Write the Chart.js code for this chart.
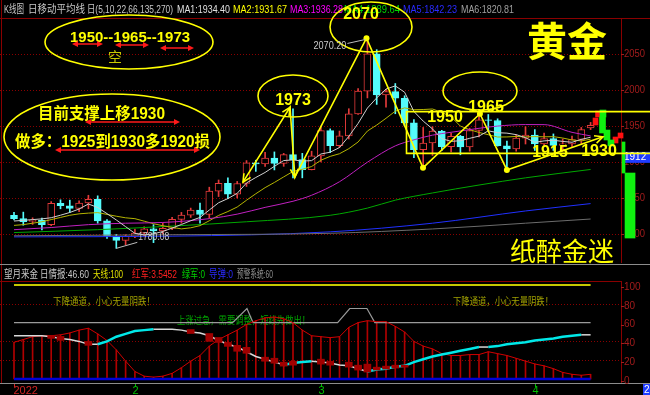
<!DOCTYPE html>
<html>
<head>
<meta charset="utf-8">
<title>黄金 日K</title>
<script src="https://cdn.jsdelivr.net/npm/chart.js@4.4.1/dist/chart.umd.min.js"></script>
<style>
  html, body { margin: 0; padding: 0; background: #000; overflow: hidden; }
  #goldChart { display: block; }
</style>
</head>
<body>
<canvas id="goldChart" width="650" height="395"></canvas>
<script>
// ---- values ----
const monthIdx = [0, 13, 33, 56];
const monthLabels = ['2022', '2', '3', '4'];

const opens = [1825.9,1821.4,1817.5,1818.9,1813.0,1842.5,1839.3,1835.6,1843.0,1848.0,1818.2,1796.9,1791.2,1796.8,1801.2,1807.3,1804.4,1807.8,1820.4,1826.3,1833.3,1827.1,1859.6,1870.5,1855.3,1870.1,1898.9,1897.5,1905.5,1898.0,1910.2,1903.4,1889.5,1908.6,1943.6,1922.8,1936.2,1966.8,1998.4,2050.3,1993.2,1997.8,1988.6,1954.4,1917.0,1926.4,1943.0,1921.3,1935.8,1920.9,1943.7,1958.4,1957.7,1922.6,1918.2,1933.1,1937.4,1925.1,1932.5,1923.0,1925.2,1931.3,1947.5];
const highs = [1830.0,1830.4,1822.5,1822.0,1845.0,1847.5,1847.0,1846.0,1853.8,1853.0,1820.0,1799.5,1799.0,1807.0,1810.0,1813.0,1815.0,1823.0,1830.0,1836.0,1843.0,1865.0,1875.0,1878.0,1873.0,1902.0,1902.5,1913.5,1914.0,1912.0,1974.0,1912.0,1915.0,1950.0,1946.0,1943.0,1974.0,2002.0,2070.2,2056.0,2001.0,2009.0,1992.0,1959.0,1948.0,1949.0,1944.0,1940.0,1937.0,1947.0,1966.0,1966.0,1960.0,1929.0,1938.0,1949.0,1945.0,1940.0,1939.0,1932.0,1936.0,1948.0,1955.0];
const lows = [1819.7,1812.2,1813.3,1805.5,1811.5,1835.0,1830.0,1831.0,1835.0,1815.0,1794.0,1780.08,1785.0,1795.0,1796.0,1788.0,1800.0,1806.0,1815.0,1823.0,1815.0,1822.0,1852.0,1849.0,1850.0,1866.0,1887.0,1894.0,1889.0,1894.0,1878.0,1878.0,1889.0,1900.0,1913.0,1920.0,1932.0,1966.0,1989.0,1980.0,1976.0,1967.0,1950.0,1906.0,1895.0,1909.0,1916.0,1914.0,1910.0,1915.0,1935.0,1944.0,1922.0,1890.0,1915.0,1925.0,1916.0,1922.0,1916.0,1915.0,1920.0,1924.0,1945.0];
const closes = [1821.4,1817.0,1818.9,1813.0,1842.5,1839.3,1835.6,1843.0,1848.0,1818.2,1796.9,1791.2,1796.8,1801.2,1807.3,1804.4,1807.8,1820.4,1826.3,1833.3,1827.1,1859.6,1870.5,1855.3,1870.1,1898.9,1897.5,1905.5,1898.0,1910.2,1903.4,1889.5,1908.6,1943.6,1922.8,1936.2,1966.8,1998.4,2050.3,1993.2,1997.8,1988.6,1954.4,1917.0,1926.4,1943.0,1921.3,1935.8,1920.9,1943.7,1958.4,1957.7,1922.6,1918.2,1933.1,1937.4,1925.1,1932.5,1923.0,1925.2,1931.3,1945.0,1951.0];
const peakIdx = 38, troughIdx = 11;

// moving averages (MA1, MA2 every day; the slow ones sampled)
const ma1 = [1818,1819,1820,1821,1822.6,1826.1,1829.9,1834.7,1841.7,1836.8,1828.3,1819.5,1810.2,1800.9,1798.7,1800.2,1803.5,1808.2,1813.2,1818.4,1823.0,1833.3,1843.4,1849.2,1856.5,1870.9,1878.5,1885.5,1894.0,1902.0,1902.9,1901.3,1901.9,1911.1,1913.6,1920.1,1935.6,1953.6,1974.9,1989.0,2001.3,2005.7,1996.9,1970.2,1956.8,1945.9,1932.4,1928.7,1929.5,1932.9,1936.0,1943.3,1940.7,1940.1,1938.0,1933.8,1927.3,1929.3,1930.2,1928.6,1927.4,1931.4,1934.40];
const ma2 = [1812,1813,1815,1817,1820,1823,1826,1828,1829,1829.7,1827.2,1824.7,1822.5,1821.3,1817.8,1814.3,1811.5,1809.2,1807.1,1808.6,1811.6,1818.4,1825.8,1831.2,1837.5,1846.9,1855.9,1864.4,1871.6,1879.3,1886.9,1889.9,1893.7,1902.5,1907.8,1911.5,1918.5,1927.8,1943.0,1951.3,1960.7,1970.6,1975.2,1972.6,1972.9,1973.6,1969.0,1962.8,1949.8,1944.9,1941.0,1937.9,1934.7,1934.8,1935.5,1934.9,1935.3,1935.0,1935.2,1933.3,1930.6,1929.3,1931.67];
const ma3Idx = [0,4,8,12,16,21,24,27,30,32,35,38,41,43,45,47,50,52,55,57,60,62];
const ma3 = [1806,1809,1813,1815,1816,1821.3,1827.6,1837,1845.5,1853.8,1872.6,1899.7,1922.4,1930.8,1937.3,1941.3,1946.8,1949.9,1952.0,1951.9,1941.2,1936.28];
const ma4Idx = [0,9,17,25,34,38,41,45,50,55,62];
const ma4 = [1802,1806,1811,1817,1826,1836,1847,1857,1868,1878,1889.64];
const ma5Idx = [0,17,34,45,55,62];
const ma5 = [1796,1797,1803,1815,1832,1842.23];
const ma6Idx = [0,17,34,45,55,62];
const ma6 = [1797.5,1799,1801,1807,1815,1820.81];

const priceTicks = [2050, 2000, 1950, 1900, 1850, 1800];
const lastPrice = 1912;
const boxTop = 1970, boxBottom = 1912, boxStart = 42.2;

// hand-drawn zigzag of the analyst
const zigIdx = [24.62, 29.68, 30.2, 37.9, 43.98, 50.1, 53.0, 63.33];
const zigVal = [1872, 1976, 1879, 2072, 1892, 1967, 1889, 1935];

// signal blocks right of the last candle
const sigGreenIdx = [63.33, 63.28, 63.76, 64.19];
const sigGreenLo = [1962.5, 1940.3, 1930.6, 1922.2];
const sigGreenHi = [1972.2, 1962.5, 1944.4, 1930.6];
const sigThinIdx = [65.54], sigThinLo = [1884.7], sigThinHi = [1927.8];
const sigWideIdx = [66.24], sigWideLo = [1794.4], sigWideHi = [1884.7];
const sigRedIdx = [62.53, 62.8, 64.68, 65.22];
const sigRedLo = [1951.4, 1962.5, 1926.4, 1933.3];
const sigRedHi = [1961.1, 1970.8, 1934.7, 1940.3];

// lower panel (望月来金)
const lowTicks = [100, 80, 60, 40, 20, 0];
const lowGrid = [80, 40, 20];
const redLine = [39,42,45,46,46,47,49,52,54,48,41,31,19,8,3,2,3,6,12,19,25,35,42,47,52,58,62,65,66,64,60,52,46,45,44,45,55,60,62,61,61,56,50,40,35,32,27,25,25,26,26,29,27,25,22,19,16,14,11,7,5,4,5];
const whiteLine = [46,46,46,46,45,43,42,40,37,37,40,45,48,51,52,53,53,53,52,50,49,46,41,37,34,29,24,21,18,15,17,18,19,18,17,15,14,11,8,10,11,13,14,18,21,24,26,28,30,32,34,34,35,37,38,39,41,42,43,45,46,47,47];
const blkIdx = [4,5,8,19,21,22,23,24,25,27,28,29,30,33,34,36,37,38,39,40,41,42];
const blkLo = [43.2,41.1,35.8,48.4,40,38.9,34.7,29.5,27.4,18.9,16.8,13.7,14.7,15.8,14.7,12.6,9.5,7.4,9.5,10.5,11.6,12.6];
const blkHi = [46.3,45.3,40,52.6,48.4,44.2,38.9,35.8,33.7,23.2,22.1,17.9,18.9,21.1,18.9,17.9,14.7,15.8,12.6,13.7,14.7,14.7];
const warnIdx = [0, 23.5, 25.05, 25.7, 34.8, 36.1, 37.95, 38.8, 62];
const warnVal = [60, 60, 75, 60, 60, 75, 75, 60, 60];
const skyVal = 100, missileVal = 0;

// ---- helpers ----
const upColor = '#e23a3a', downColor = '#54fcfc';
const isUp = i => i !== undefined && closes[i] >= opens[i];
const pts = (xs, ys) => xs.map((x, i) => ({ x: x, y: ys[i] }));
const series = ys => ys.map((y, i) => ({ x: i, y: y }));
const ranges = (xs, lo, hi) => xs.map((x, i) => ({ x: x, y: [lo[i], hi[i]] }));
const lastIdx = closes.length - 1;

const maNames = ['MA1', 'MA2', 'MA3', 'MA4', 'MA5', 'MA6'];
const maLast = [ma1, ma2, ma3, ma4, ma5, ma6].map(a => a[a.length - 1]);
const maHeadX = [177, 233, 290, 344, 403, 461];
const maHeadW = [53, 54, 53, 56, 54, 53];
const maHeadColors = ['#e0e0e0', '#ffff00', '#ff00ff', '#00d800', '#2a2aff', '#a0a0a0'];

const plotRight = 621;
const latin = '"Liberation Sans", Arial, "Noto Sans CJK SC", sans-serif';

function text(ctx, s, x, y, font, color, align, maxW) {
    ctx.font = font;
    ctx.fillStyle = color;
    ctx.textAlign = align || 'left';
    ctx.textBaseline = 'middle';
    if (maxW) ctx.fillText(s, x, y, maxW); else ctx.fillText(s, x, y);
}
function hline(ctx, x1, x2, y) {
    ctx.beginPath(); ctx.moveTo(x1, y); ctx.lineTo(x2, y); ctx.stroke();
}
function vline(ctx, x, y1, y2) {
    ctx.beginPath(); ctx.moveTo(x, y1); ctx.lineTo(x, y2); ctx.stroke();
}
function redArrow(ctx, x1, x2, y) {
    ctx.strokeStyle = '#ff1a1a'; ctx.fillStyle = '#ff1a1a'; ctx.lineWidth = 1.5;
    hline(ctx, x1 + 3, x2 - 3, y);
    [[x1, 1], [x2, -1]].forEach(([x, d]) => {
        ctx.beginPath(); ctx.moveTo(x, y); ctx.lineTo(x + 6 * d, y - 3); ctx.lineTo(x + 6 * d, y + 3); ctx.closePath(); ctx.fill();
    });
}
function vHead(ctx, from, to) {
    const a = Math.atan2(to.y - from.y, to.x - from.x);
    ctx.beginPath();
    ctx.moveTo(to.x - 9 * Math.cos(a - 0.45), to.y - 9 * Math.sin(a - 0.45));
    ctx.lineTo(to.x, to.y);
    ctx.lineTo(to.x - 9 * Math.cos(a + 0.45), to.y - 9 * Math.sin(a + 0.45));
    ctx.stroke();
}

const zigDataset = {
    type: 'line', label: 'zigzag', data: pts(zigIdx, zigVal),
    borderColor: '#ffff00', borderWidth: 1.6,
    pointRadius: zigIdx.map((v, k) => (k >= 3 && k <= 6) ? 3 : 0),
    pointBackgroundColor: '#ffff00', pointBorderWidth: 0, order: -10
};

const overlay = {
    id: 'overlay',
    beforeDraw(chart) {
        const ctx = chart.ctx;
        ctx.save();
        ctx.fillStyle = '#000';
        ctx.fillRect(0, 0, chart.width, chart.height);
        ctx.restore();
    },
    beforeDatasetsDraw(chart) {
        const { ctx, scales: { x, y, y2 } } = chart;
        ctx.save();
        // dotted grid
        ctx.strokeStyle = '#8a0000'; ctx.lineWidth = 1; ctx.setLineDash([1, 2]);
        priceTicks.forEach(v => hline(ctx, 0, plotRight, Math.round(y.getPixelForValue(v)) + 0.5));
        lowGrid.forEach(v => hline(ctx, 0, plotRight, Math.round(y2.getPixelForValue(v)) + 0.5));
        ctx.setLineDash([]);

        // frames
        ctx.strokeStyle = '#8a0000';
        hline(ctx, 0, chart.width, 18.5);
        hline(ctx, 0, plotRight, 281.5);
        vline(ctx, 1.5, 0, 383);
        vline(ctx, plotRight + 0.5, 18, 263);
        vline(ctx, plotRight + 0.5, 281, 383);
        ctx.strokeStyle = '#8c8c8c';
        hline(ctx, 0, chart.width, 264.5);
        hline(ctx, 0, chart.width, 383.5);

        // right axis labels
        ctx.strokeStyle = '#a31c1c';
        priceTicks.forEach(v => {
            const py = y.getPixelForValue(v);
            hline(ctx, plotRight, plotRight + 3, Math.round(py) + 0.5);
            text(ctx, String(v), 624, py, '10px ' + latin, '#a31c1c', 'left', 21);
        });
        lowTicks.forEach(v => {
            const py = y2.getPixelForValue(v) + 2;
            hline(ctx, plotRight, plotRight + 3, Math.round(py) + 0.5);
            text(ctx, String(v), 624, py, '10px ' + latin, '#a31c1c', 'left', 21);
        });
        const ly = y.getPixelForValue(lastPrice);
        ctx.fillStyle = '#1f3cff';
        ctx.fillRect(622, ly - 1.5, 28, 11);
        text(ctx, String(lastPrice), 624, ly + 4, '10px ' + latin, '#ffffff', 'left', 24);

        // date axis
        monthIdx.forEach((m, k) => {
            const px = Math.round(x.getPixelForValue(m)) + 0.5;
            const col = k === 0 ? '#d02424' : '#00c000';
            ctx.strokeStyle = col;
            vline(ctx, px, 384, 387);
            text(ctx, monthLabels[k], k === 0 ? px - 1 : px, 391, '11px ' + latin, col, k === 0 ? 'left' : 'center');
        });
        ctx.fillStyle = '#1f3cff';
        ctx.fillRect(643, 384, 7, 11);
        text(ctx, '20', 644, 390, '10px ' + latin, '#ffffff', 'left');

        // header rows
        const hfont = '11px ' + latin;
        text(ctx, 'K线图', 4, 10, hfont, '#c8c8c8', 'left', 20);
        text(ctx, '日移动平均线', 28, 10, hfont, '#c8c8c8', 'left', 57);
        text(ctx, '日(5,10,22,66,135,270)', 87, 10, hfont, '#c8c8c8', 'left', 86);
        maNames.forEach((n, k) => {
            text(ctx, n + ':' + maLast[k].toFixed(2), maHeadX[k], 10, hfont, maHeadColors[k], 'left', maHeadW[k]);
        });
        text(ctx, '望月来金', 4, 275, hfont, '#c8c8c8', 'left', 34);
        text(ctx, '日情报:46.60', 40, 275, hfont, '#c8c8c8', 'left', 49);
        text(ctx, '天线:' + skyVal, 93, 275, hfont, '#e0e000', 'left', 30);
        text(ctx, '红军:3.5452', 132, 275, hfont, '#ff2020', 'left', 45);
        text(ctx, '绿军:0', 182, 275, hfont, '#00d000', 'left', 23);
        text(ctx, '导弹:' + missileVal, 209, 275, hfont, '#2a2aff', 'left', 24);
        text(ctx, '预警系统:60', 237, 275, hfont, '#909090', 'left', 36);

        // lower panel messages
        const mfont = '10px "Noto Sans CJK SC", sans-serif';
        text(ctx, '下降通道，小心无量阴跌！', 53, 301, mfont, '#a0a000', 'left', 102);
        text(ctx, '下降通道，小心无量阴跌！', 453, 301, mfont, '#a0a000', 'left', 100);
        text(ctx, '上涨过急，需要调整，短线先做出！', 177, 320, mfont, '#00a800', 'left', 133);
        ctx.restore();
    },
    afterDatasetsDraw(chart) {
        const { ctx, scales: { x, y } } = chart;
        ctx.save();
        ctx.strokeStyle = '#ffff00'; ctx.lineWidth = 1.6;

        // support / resistance box
        const bx = Math.round(x.getPixelForValue(boxStart)) + 0.5;
        const bt = y.getPixelForValue(boxTop), bb = y.getPixelForValue(boxBottom);
        ctx.beginPath();
        ctx.moveTo(chart.width, bt); ctx.lineTo(bx, bt); ctx.lineTo(bx, bb); ctx.lineTo(chart.width, bb);
        ctx.stroke();

        // ellipses
        [[129, 42, 84, 27], [112, 137, 108, 43], [293, 96, 35, 21], [371, 27, 41, 25], [480, 91, 37, 19]].forEach(e => {
            ctx.beginPath(); ctx.ellipse(e[0], e[1], e[2], e[3], 0, 0, Math.PI * 2); ctx.stroke();
        });

        // zigzag arrow heads
        const meta = chart.getDatasetMeta(chart.data.datasets.indexOf(zigDataset)).data;
        const P = k => ({ x: meta[k].x, y: meta[k].y });
        ctx.lineWidth = 1.6;
        vHead(ctx, P(1), P(0));
        vHead(ctx, P(0), P(1));
        vHead(ctx, P(1), P(2));
        vHead(ctx, P(6), P(7));

        // leader lines for the extremes
        ctx.strokeStyle = '#bdbdbd'; ctx.lineWidth = 1;
        const hi = { x: x.getPixelForValue(peakIdx), y: y.getPixelForValue(highs[peakIdx]) };
        const lo = { x: x.getPixelForValue(troughIdx), y: y.getPixelForValue(lows[troughIdx]) };
        ctx.beginPath(); ctx.moveTo(hi.x - 2, hi.y); ctx.lineTo(hi.x - 20, hi.y + 4); ctx.stroke();
        ctx.beginPath(); ctx.moveTo(lo.x, lo.y); ctx.lineTo(lo.x + 21, lo.y - 6); ctx.stroke();
        text(ctx, highs[peakIdx].toFixed(2), hi.x - 54, hi.y + 7, '10px ' + latin, '#c8c8c8', 'left', 33);
        text(ctx, lows[troughIdx].toFixed(2), lo.x + 22, lo.y - 11, '10px ' + latin, '#c8c8c8', 'left', 31);

        // notes
        const bold = 'bold 16px ' + latin;
        text(ctx, '1950--1965--1973', 70, 38, 'bold 15px ' + latin, '#ffff00', 'left', 123);
        redArrow(ctx, 72, 103, 44);
        redArrow(ctx, 115, 149, 45);
        redArrow(ctx, 160, 194, 48);
        text(ctx, '空', 115, 57, '14px "Noto Sans CJK SC", sans-serif', '#c8c800', 'center');
        text(ctx, '目前支撑上移1930', 38, 115, bold, '#ffff00', 'left', 127);
        redArrow(ctx, 85, 180, 122);
        text(ctx, '做多：1925到1930多1920损', 15, 143, bold, '#ffff00', 'left', 195);
        redArrow(ctx, 55, 200, 150);

        text(ctx, '2070', 361, 15, bold, '#ffff00', 'center');
        text(ctx, '1973', 293, 101, bold, '#ffff00', 'center');
        text(ctx, '1950', 445, 118, bold, '#ffff00', 'center');
        text(ctx, '1965', 486, 108, bold, '#ffff00', 'center');
        text(ctx, '1915', 550, 153, bold, '#ffff00', 'center');
        text(ctx, '1930', 599, 152, bold, '#ffff00', 'center');

        text(ctx, '黄金', 567, 41, 'bold 40px "Noto Sans CJK SC", sans-serif', '#ffff00', 'center');
        text(ctx, '纸醉金迷', 562, 251, '26px "Noto Sans CJK SC", sans-serif', '#ffff00', 'center');
        ctx.restore();
    }
};

new Chart(document.getElementById('goldChart'), {
    type: 'bar',
    data: {
        datasets: [
            zigDataset,
            // candles
            {
                label: 'body', data: opens.map((o, i) => ({ x: i, y: [o, closes[i]] })),
                barThickness: 7, borderWidth: 1, borderSkipped: false,
                backgroundColor: c => isUp(c.dataIndex) ? '#000000' : downColor,
                borderColor: c => isUp(c.dataIndex) ? upColor : downColor, order: 10
            },
            {
                label: 'wick', data: lows.map((l, i) => ({ x: i, y: [l, highs[i]] })),
                barThickness: 1, borderWidth: 0,
                backgroundColor: c => isUp(c.dataIndex) ? upColor : downColor, order: 11
            },
            // moving averages
            { type: 'line', label: 'MA6', data: pts(ma6Idx, ma6), borderColor: '#6c6c6c', cubicInterpolationMode: 'monotone', order: 6 },
            { type: 'line', label: 'MA5', data: pts(ma5Idx, ma5), borderColor: '#2030ff', cubicInterpolationMode: 'monotone', order: 6 },
            { type: 'line', label: 'MA4', data: pts(ma4Idx, ma4), borderColor: '#00a800', cubicInterpolationMode: 'monotone', order: 6 },
            { type: 'line', label: 'MA3', data: pts(ma3Idx, ma3), borderColor: '#c020c0', cubicInterpolationMode: 'monotone', order: 5 },
            { type: 'line', label: 'MA2', data: series(ma2), borderColor: '#b4b400', order: 5 },
            { type: 'line', label: 'MA1', data: series(ma1), borderColor: '#cfcfcf', order: 4 },
            // signal blocks
            { label: 'sigRed', data: ranges(sigRedIdx, sigRedLo, sigRedHi), barThickness: 5, backgroundColor: '#ff1010', order: 9 },
            { label: 'sigGreen', data: ranges(sigGreenIdx, sigGreenLo, sigGreenHi), barThickness: 6, backgroundColor: '#10f010', order: 8 },
            { label: 'sigThin', data: ranges(sigThinIdx, sigThinLo, sigThinHi), barThickness: 3, backgroundColor: '#10f010', order: 8 },
            { label: 'sigWide', data: ranges(sigWideIdx, sigWideLo, sigWideHi), barThickness: 10, backgroundColor: '#10f010', order: 8 },
            // lower panel
            { label: 'stems', yAxisID: 'y2', data: redLine.map((v, i) => ({ x: i, y: [missileVal, v] })), barThickness: 1, backgroundColor: '#b00000', order: 8 },
            { type: 'line', label: 'sky', yAxisID: 'y2', data: pts([0, lastIdx], [skyVal, skyVal]), borderColor: '#c8c800', borderWidth: 2, order: 7 },
            { type: 'line', label: 'warn', yAxisID: 'y2', data: pts(warnIdx, warnVal), borderColor: '#9a9a9a', borderWidth: 1.2, order: 7 },
            { type: 'line', label: 'missile', yAxisID: 'y2', data: pts([0, lastIdx], [missileVal, missileVal]), borderColor: '#0000d8', borderWidth: 2.5, order: 3 },
            { type: 'line', label: 'red', yAxisID: 'y2', data: series(redLine), borderColor: '#d00000', borderWidth: 1, order: 6 },
            {
                type: 'line', label: 'white', yAxisID: 'y2', data: series(whiteLine), order: 5,
                borderColor: '#d8d8d8', borderWidth: 1.5,
                segment: {
                    borderColor: s => s.p1.parsed.y > s.p0.parsed.y ? '#00e8e8' : '#d8d8d8',
                    borderWidth: s => s.p1.parsed.y > s.p0.parsed.y ? 2.5 : 1.5
                }
            },
            { label: 'blocks', yAxisID: 'y2', data: ranges(blkIdx, blkLo, blkHi), barThickness: 7, backgroundColor: '#a00000', order: 2 }
        ]
    },
    options: {
        responsive: false,
        devicePixelRatio: 1,
        animation: false,
        events: [],
        layout: { padding: { top: 19, bottom: 12, left: 0, right: 0 }, autoPadding: false },
        datasets: {
            bar: { grouped: false, borderWidth: 0 },
            line: { pointRadius: 0, borderWidth: 1, fill: false, tension: 0 }
        },
        plugins: { legend: { display: false }, tooltip: { enabled: false } },
        scales: {
            x: { type: 'linear', display: false, offset: false, min: -1.5054, max: 68.387 },
            y: { type: 'linear', display: false, beginAtZero: false, min: 1593.06, max: 2098.61 },
            y2: { type: 'linear', axis: 'y', display: false, beginAtZero: false, min: -4.255, max: 382.98 }
        }
    },
    plugins: [overlay]
});
</script>
</body>
</html>
